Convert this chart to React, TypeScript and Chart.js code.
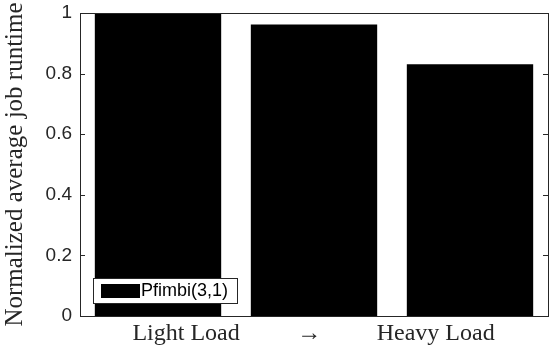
import React, { useEffect, useRef } from "react";
import { Chart, registerables } from "chart.js";

Chart.register(...registerables);

const categories = ["Light", "Medium", "Heavy"];
const runtimeValues = [1.0, 0.962, 0.831];
const seriesLabel = "Pfimbi(3,1)";
const xTickPositions = [0.18, 0.97, 1.78];
const xTickLabels = ["Light Load", "\u2192", "Heavy Load"];
const yTickValues = [0, 0.2, 0.4, 0.6, 0.8, 1];
const yTitle = "Normalized average job runtime";

const AXIS_COLOR = "#262626";

const boxPlugin = {
  id: "matlabBox",
  afterDraw(chart: any) {
    const { ctx, chartArea } = chart;
    const { left, right, top, bottom } = chartArea;
    const yScale = chart.scales.y;
    ctx.save();
    ctx.strokeStyle = AXIS_COLOR;
    ctx.lineWidth = 1;
    ctx.strokeRect(Math.round(left) + 0.5, Math.round(top) + 0.5, Math.round(right - left), Math.round(bottom - top));
    ctx.beginPath();
    yTickValues.forEach((v) => {
      const y = Math.round(yScale.getPixelForValue(v)) + 0.5;
      ctx.moveTo(left, y);
      ctx.lineTo(left + 5, y);
      ctx.moveTo(right - 5, y);
      ctx.lineTo(right, y);
    });
    ctx.stroke();

    // legend
    const lx = left + 13;
    const ly = bottom - 38;
    const lw = 144;
    const lh = 25;
    ctx.fillStyle = "#ffffff";
    ctx.fillRect(lx, ly, lw, lh);
    ctx.strokeStyle = AXIS_COLOR;
    ctx.strokeRect(lx + 0.5, ly + 0.5, lw, lh);
    ctx.fillStyle = chart.data.datasets[0].backgroundColor;
    ctx.fillRect(lx + 8, ly + 6, 39, 14);
    ctx.fillStyle = "#000000";
    ctx.font = "18px 'Liberation Sans', Arial, sans-serif";
    ctx.textBaseline = "middle";
    ctx.textAlign = "left";
    ctx.fillText(chart.data.datasets[0].label, lx + 48, ly + lh / 2 + 1);
    ctx.restore();
  },
};

export default function App() {
  const canvasRef = useRef<HTMLCanvasElement | null>(null);

  useEffect(() => {
    const canvas = canvasRef.current;
    if (!canvas) return;
    const chart = new Chart(canvas, {
      type: "bar",
      data: {
        labels: categories,
        datasets: [
          {
            label: seriesLabel,
            data: runtimeValues,
            backgroundColor: "#000000",
            borderWidth: 0,
            barPercentage: 0.81,
            categoryPercentage: 1,
            xAxisID: "x",
          },
        ],
      },
      options: {
        responsive: false,
        animation: false,
        devicePixelRatio: 1,
        layout: { padding: { left: 0, right: 5, top: 13, bottom: 0 } },
        plugins: {
          legend: { display: false },
          tooltip: { enabled: false },
        },
        scales: {
          x: {
            type: "category",
            display: false,
            offset: true,
          },
          x2: {
            type: "linear",
            position: "bottom",
            min: -0.5,
            max: 2.5,
            offset: false,
            grid: { display: false, drawTicks: false, offset: false },
            border: { display: false },
            afterBuildTicks: (s: any) => {
              s.ticks = xTickPositions.map((v) => ({ value: v }));
            },
            afterFit: (s: any) => {
              s.height = 35;
              s.paddingLeft = 0;
              s.paddingRight = 0;
            },
            ticks: {
              autoSkip: false,
              maxRotation: 0,
              padding: 3,
              color: AXIS_COLOR,
              font: { family: "'Liberation Serif', 'Times New Roman', serif", size: 24 },
              callback: (_v: any, i: number) => xTickLabels[i],
            },
          },
          y: {
            min: 0,
            max: 1,
            grid: { display: false, drawTicks: false },
            border: { display: false },
            afterBuildTicks: (s: any) => {
              s.ticks = yTickValues.map((v) => ({ value: v }));
            },
            afterFit: (s: any) => {
              s.width = 80;
              s.paddingTop = 0;
              s.paddingBottom = 0;
            },
            ticks: {
              padding: 8,
              color: AXIS_COLOR,
              font: { family: "'Liberation Sans', Arial, sans-serif", size: 19 },
              callback: (v: any) => (v === 0 ? "0" : v === 1 ? "1" : Number(v).toFixed(1)),
            },
            title: {
              display: true,
              text: yTitle,
              color: AXIS_COLOR,
              padding: 0,
              font: { family: "'Liberation Serif', 'Times New Roman', serif", size: 25 },
            },
          },
        },
      },
      plugins: [boxPlugin],
    });
    return () => chart.destroy();
  }, []);

  return (
    <div style={{ position: "fixed", left: 0, top: 0, width: 553, height: 351, background: "#fff" }}>
      <canvas ref={canvasRef} width={553} height={351} style={{ width: 553, height: 351, display: "block" }} />
    </div>
  );
}
